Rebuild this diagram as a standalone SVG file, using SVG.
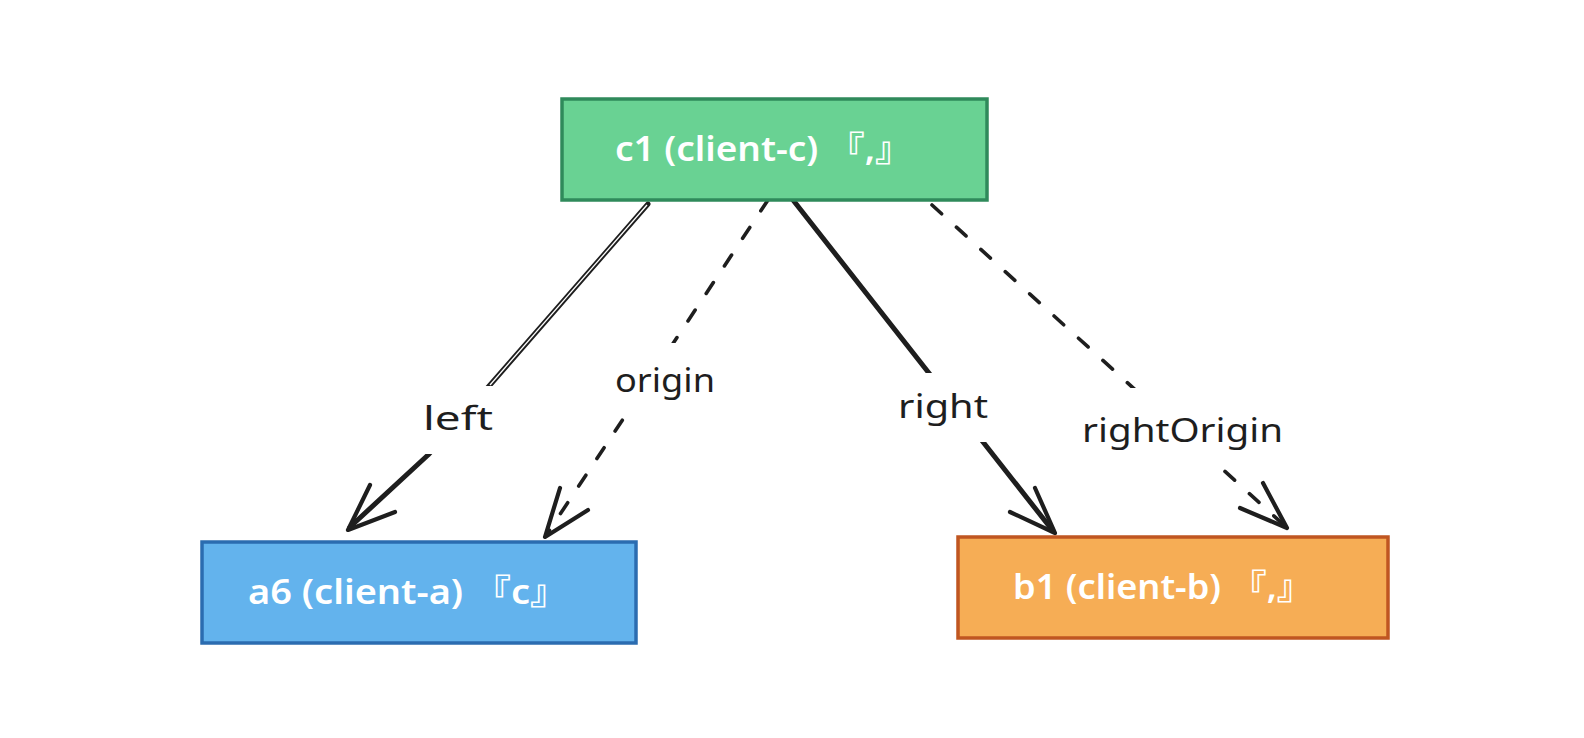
<svg xmlns="http://www.w3.org/2000/svg" width="1584" height="738" viewBox="0 0 1584 738">
<style>
.node-text{font-family:"Noto Sans","Noto Sans CJK SC",sans-serif;font-size:34px;fill:#ffffff;font-weight:600}
.lbl{font-family:"Noto Sans","Noto Sans CJK SC",sans-serif;font-size:33px;fill:#1e1e1e}
.shaft{fill:none;stroke:#1e1e1e;stroke-linecap:round;stroke-linejoin:round}
.dash{stroke-width:3.6;stroke-dasharray:13 20}
.head{fill:none;stroke:#1e1e1e;stroke-width:4.2;stroke-linecap:round;stroke-linejoin:round}
.bg{fill:#ffffff}
</style>
<rect width="1584" height="738" fill="#ffffff"/>
<g id="connectors">
  <g id="edge-left">
    <path class="shaft" d="M648 204 L490 385 L428 455 L350 527" stroke-width="5"/>
    <path d="M647 205 L490 385" fill="none" stroke="#ffffff" stroke-width="1.3"/>
    <path class="head" d="M370 485 L348 530 L395 512"/>
    <rect class="bg" x="412" y="386" width="92" height="68"/>
    <text class="lbl" x="423" y="430" textLength="70" lengthAdjust="spacingAndGlyphs">left</text>
  </g>
  <g id="edge-origin">
    <path class="shaft dash" d="M768 200 L547 534"/>
    <path class="head" d="M560 488 L545 537 L588 510" stroke-width="3.8"/>
    <rect class="bg" x="606" y="343" width="118" height="73"/>
    <text class="lbl" x="615" y="392" textLength="100" lengthAdjust="spacingAndGlyphs">origin</text>
  </g>
  <g id="edge-right">
    <path class="shaft" d="M793 200 L1053 531" stroke-width="5"/>
    <path class="head" d="M1010 512 L1055 533 L1035 488"/>
    <rect class="bg" x="886" y="373" width="112" height="69"/>
    <text class="lbl" x="898" y="418" textLength="90" lengthAdjust="spacingAndGlyphs">right</text>
  </g>
  <g id="edge-rightOrigin">
    <path class="shaft dash" d="M932 205 L1285 526"/>
    <path class="head" d="M1240 508 L1287 528 L1263 483" stroke-width="3.8"/>
    <rect class="bg" x="1070" y="388" width="225" height="81"/>
    <text class="lbl" x="1082" y="442" textLength="201" lengthAdjust="spacingAndGlyphs">rightOrigin</text>
  </g>
</g>
<g id="node-c1">
  <rect x="562" y="99" width="425" height="101" fill="#69d293" stroke="#2f8a5b" stroke-width="3.5"/>
  <text class="node-text" x="615" y="161" textLength="297" lengthAdjust="spacingAndGlyphs">c1 (client-c) 『,』</text>
</g>
<g id="node-a6">
  <rect x="202" y="542" width="434" height="101" fill="#63b3ed" stroke="#2b6cb0" stroke-width="3.5"/>
  <text class="node-text" x="248" y="604" textLength="320" lengthAdjust="spacingAndGlyphs">a6 (client-a) 『c』</text>
</g>
<g id="node-b1">
  <rect x="958" y="537" width="430" height="101" fill="#f6ad55" stroke="#c05621" stroke-width="3.5"/>
  <text class="node-text" x="1013" y="599" textLength="300" lengthAdjust="spacingAndGlyphs">b1 (client-b) 『,』</text>
</g>
</svg>
